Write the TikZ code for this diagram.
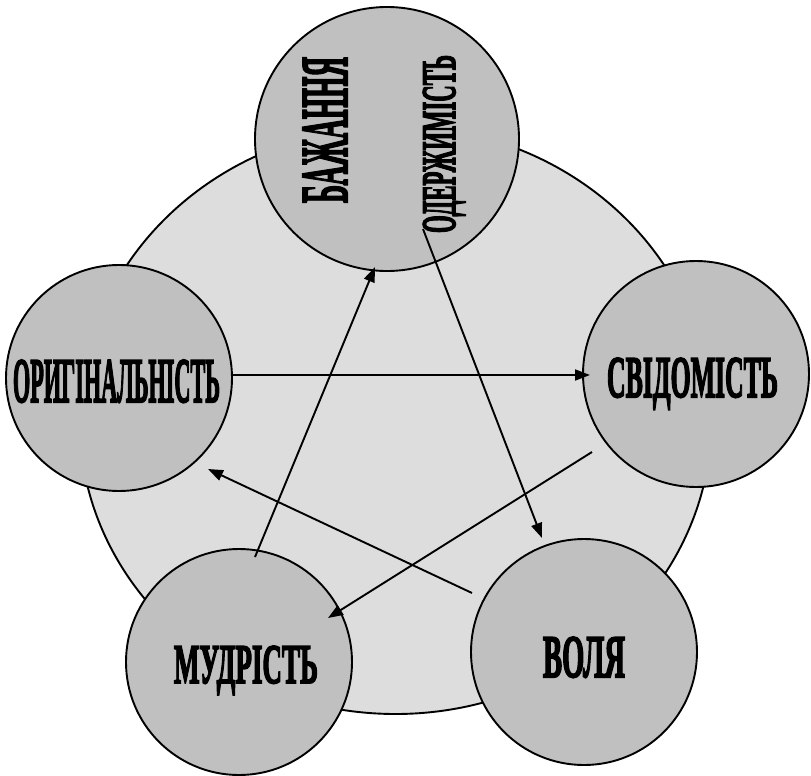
\documentclass[tikz,border=0pt]{standalone}
\usepackage{fontspec}
\setmainfont{Liberation Serif}
\newfontfamily\lblfont{Liberation Serif}[BoldFeatures={FakeBold=3.5}]
\usetikzlibrary{arrows.meta,calc,shapes.geometric}
\definecolor{bubgray}{RGB}{192,192,192}
\definecolor{ringgray}{RGB}{221,221,221}
\newcommand\fitlbl[3]{\resizebox{#1pt}{#2pt}{\lblfont\bfseries #3}}
\begin{document}
\begin{tikzpicture}[x=1pt,y=-1pt,
  ringst/.style={ellipse,draw,line width=1.9pt,fill=ringgray,inner sep=0,minimum width=632pt,minimum height=588pt},
  bub/.style={circle,draw,line width=1.9pt,fill=bubgray,inner sep=0,minimum size=226pt},
  lbl/.style={inner sep=0,anchor=base},
  arr/.style={line width=1.9pt,-{Triangle[length=15pt,width=11pt]}}]
\useasboundingbox (0,0) rectangle (811,776);
\node[ringst] (ring) at (395.5,420) {};
\node[bub,minimum size=264pt] (bazh) at (387,139) {};
\node[bub] (orig) at (119,378) {};
\node[bub] (svid) at (696,374) {};
\node[bub] (mud) at (239,662) {};
\node[bub] (volya) at (584,652) {};
% labels
\node[lbl,rotate=90] (bazhT) at (347,130) {\fitlbl{146}{44}{БАЖАННЯ}};
\node[lbl,rotate=90] (oderT) at (455,144) {\fitlbl{178}{32}{ОДЕРЖИМІСТЬ}};
\node[lbl] (origT) at (116.5,402) {\fitlbl{207}{42}{ОРИГІНАЛЬНІСТЬ}};
\node[lbl] (svidT) at (692.5,397) {\fitlbl{171}{39}{СВІДОМІСТЬ}};
\node[lbl] (mudT) at (246,683) {\fitlbl{144}{37}{МУДРІСТЬ}};
\node[lbl] (volyaT) at (584,677) {\fitlbl{82}{40}{ВОЛЯ}};
% arrow ends
\coordinate (a1s) at ($(orig)+(113,-3)$);
\coordinate (a1e) at ($(svid)+(-106,1)$);
\coordinate (a2s) at ($(svid)+(-104,78)$);
\coordinate (a2e) at ($(mud)+(89,-44)$);
\coordinate (a3s) at ($(volya)+(-112,-59)$);
\coordinate (a3e) at ($(orig)+(89,91)$);
\coordinate (a4s) at ($(mud)+(16,-105)$);
\coordinate (a4e) at ($(bazh)+(-12,128)$);
\coordinate (a5s) at ($(bazh)+(36,90)$);
\coordinate (a5e) at ($(volya)+(-42,-114)$);
\draw[arr] (a1s) -- (a1e);
\draw[arr] (a2s) -- (a2e);
\draw[arr] (a3s) -- (a3e);
\draw[arr] (a4s) -- (a4e);
\draw[arr] (a5s) -- (a5e);
\end{tikzpicture}
\end{document}
